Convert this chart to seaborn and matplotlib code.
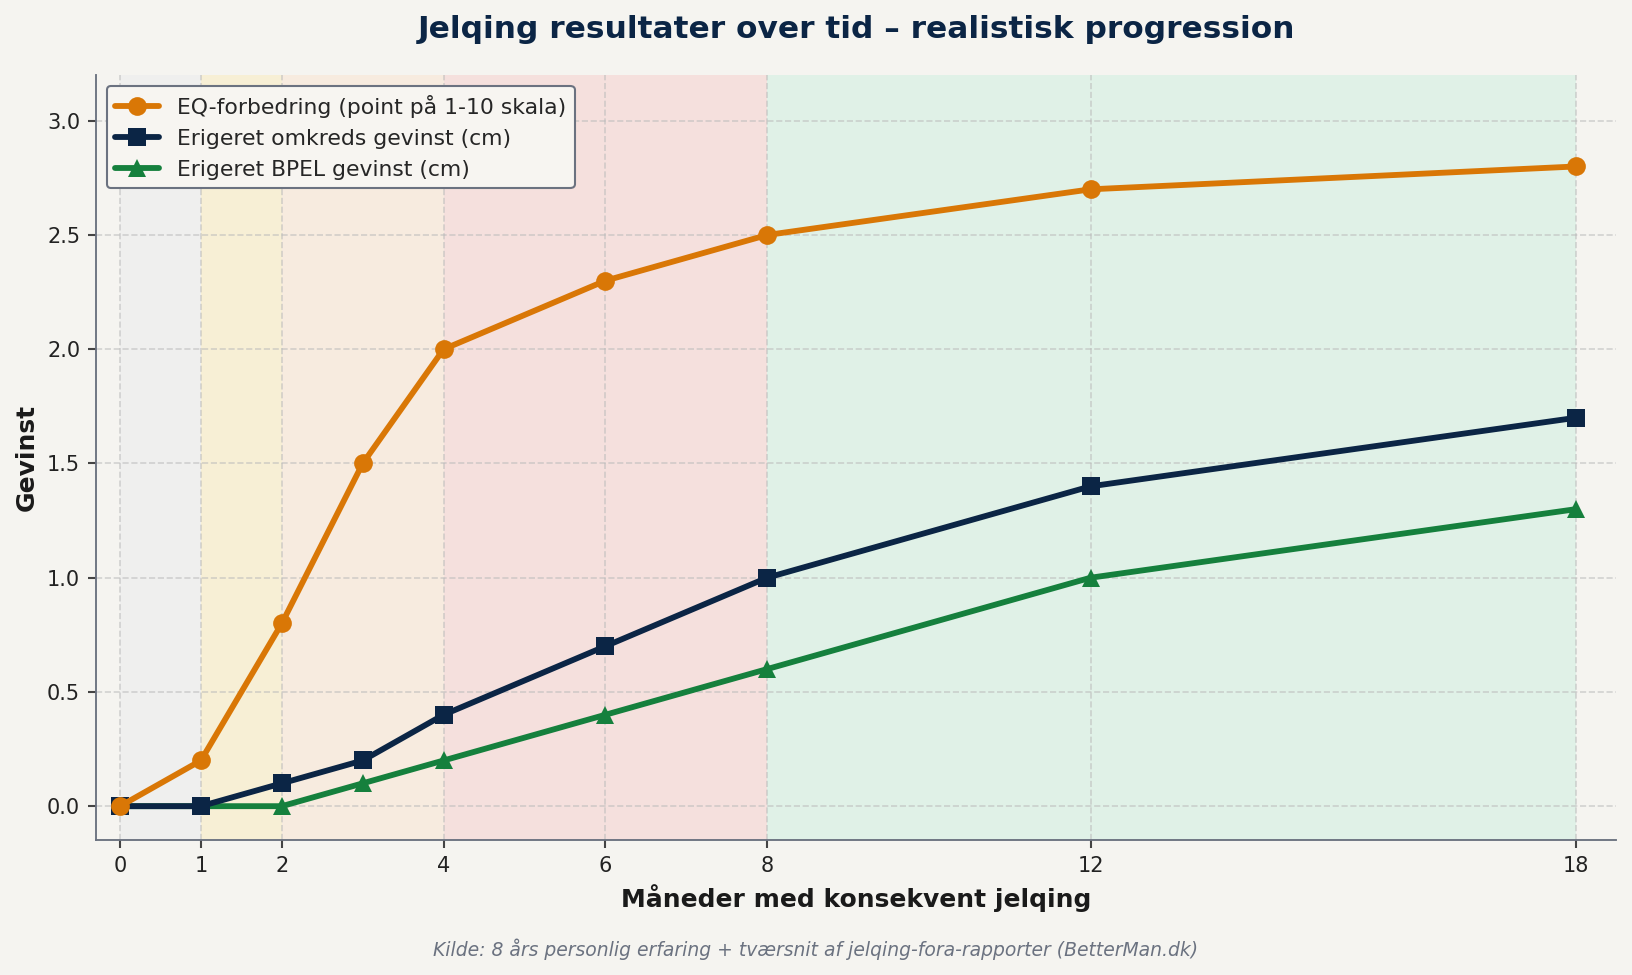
import matplotlib
matplotlib.use("Agg")
import matplotlib.pyplot as plt
import seaborn as sns
import pandas as pd

months = [0, 1, 2, 3, 4, 6, 8, 12, 18]
eq_gain = [0.0, 0.2, 0.8, 1.5, 2.0, 2.3, 2.5, 2.7, 2.8]
girth_gain = [0.0, 0.0, 0.1, 0.2, 0.4, 0.7, 1.0, 1.4, 1.7]
bpel_gain = [0.0, 0.0, 0.0, 0.1, 0.2, 0.4, 0.6, 1.0, 1.3]
series_names = ["EQ-forbedring (point på 1-10 skala)",
                "Erigeret omkreds gevinst (cm)",
                "Erigeret BPEL gevinst (cm)"]
xticks = [0, 1, 2, 4, 6, 8, 12, 18]
phase_edges = [0, 1, 2, 4, 8, 18]
phase_colors = ["#EFEFEE", "#F7EFD5", "#F7EBDF", "#F5E0DD", "#E0F1E7"]

sns.set_theme(style="white")
bg = "#F5F4F0"
plt.rcParams["font.family"] = ["DejaVu Sans"]

fig = plt.figure(figsize=(10.88, 6.5), dpi=150, facecolor=bg)
ax = fig.add_axes([0.0587, 0.138, 0.9317, 0.785])
ax.set_facecolor(bg)

for i in range(len(phase_edges) - 1):
    ax.axvspan(phase_edges[i], phase_edges[i + 1], color=phase_colors[i], zorder=0, lw=0)

df = pd.DataFrame({"months": months, "eq": eq_gain, "girth": girth_gain, "bpel": bpel_gain})
colors = ["#D97706", "#0B2545", "#15803D"]
markers = ["o", "s", "^"]
zorders = [5, 4, 3]
for col, name, c, m, z in zip(["eq", "girth", "bpel"], series_names, colors, markers, zorders):
    sns.lineplot(data=df, x="months", y=col, ax=ax, color=c, marker=m, markersize=9,
                 linewidth=2.8, label=name, markeredgewidth=0, zorder=z)

ax.set_xlim(-0.3, 18.5)
ax.set_ylim(-0.15, 3.2)
ax.set_xticks(xticks)
yt = [0, 0.5, 1.0, 1.5, 2.0, 2.5, 3.0]
ax.set_yticks(yt)
ax.set_yticklabels([f"{v:.1f}" for v in yt])
ax.tick_params(axis="both", labelsize=10, length=4, width=1, color="#444444", left=True, bottom=True,
               labelcolor="#222222")
ax.grid(True, linestyle="--", color="#BBBBBB", alpha=0.6, linewidth=0.8, zorder=1)
ax.set_axisbelow(True)
for s in ["top", "right"]:
    ax.spines[s].set_visible(False)
for s in ["left", "bottom"]:
    ax.spines[s].set_color("#6B7280")
    ax.spines[s].set_linewidth(0.9)

ax.set_xlabel("Måneder med konsekvent jelqing", fontsize=12, fontweight="bold", color="#1a1a1a", labelpad=4)
ax.set_ylabel("Gevinst", fontsize=12, fontweight="bold", color="#1a1a1a", labelpad=4)
ax.set_title("Jelqing resultater over tid – realistisk progression", fontsize=15, fontweight="bold",
             color="#0B2545", pad=18)
leg = ax.legend(loc="upper left", fontsize=10.5, frameon=True, facecolor="#F7F5F1", edgecolor="#6B7280",
                framealpha=1.0)
leg.get_frame().set_linewidth(1.0)
leg.set_zorder(10)
fig.text(0.5, 0.019, "Kilde: 8 års personlig erfaring + tværsnit af jelqing-fora-rapporter (BetterMan.dk)",
         ha="center", fontsize=9, style="italic", color="#6B7280")

fig.savefig("out.png", dpi=150, facecolor=bg)
